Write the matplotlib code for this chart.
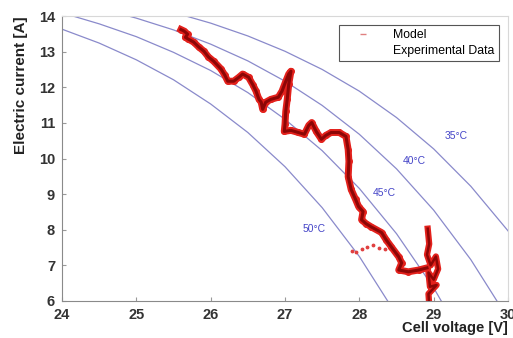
import matplotlib
matplotlib.use("Agg")
import matplotlib.pyplot as plt
from matplotlib.lines import Line2D

# ---- the data ----

# model curves, one per cell temperature (voltage [V], current [A])
curve_temps = ['35°C', '40°C', '45°C', '50°C']
v_35 = [25.0, 25.5, 26.0, 26.5, 27.0, 27.5, 28.0, 28.5, 29.0, 29.5, 30.0, 30.5]
i_35 = [14.35, 14.10, 13.80, 13.44, 13.01, 12.50, 11.89, 11.15, 10.27, 9.22, 7.97, 6.47]
v_40 = [24.5, 25.0, 25.5, 26.0, 26.5, 27.0, 27.5, 28.0, 28.5, 29.0, 29.5, 30.0]
i_40 = [14.22, 13.94, 13.61, 13.21, 12.74, 12.17, 11.49, 10.68, 9.71, 8.55, 7.16, 5.51]
v_45 = [24.0, 24.5, 25.0, 25.5, 26.0, 26.5, 27.0, 27.5, 28.0, 28.5, 29.0, 29.5]
i_45 = [14.09, 13.78, 13.42, 12.98, 12.47, 11.85, 11.10, 10.22, 9.16, 7.89, 6.37, 4.56]
v_50 = [23.5, 24.0, 24.5, 25.0, 25.5, 26.0, 26.5, 27.0, 27.5, 28.0, 28.5]
i_50 = [13.96, 13.63, 13.24, 12.77, 12.21, 11.53, 10.73, 9.77, 8.62, 7.25, 5.61]

# where the temperature labels sit
label_v = [29.31, 28.74, 28.34, 27.39]
label_i = [10.62, 9.92, 9.04, 8.03]

# measured operating points (the wiggly trace)
trace_v = [25.60, 25.64, 25.69, 25.66, 25.70, 25.77, 25.84, 25.91, 25.97, 26.04,
           26.14, 26.19, 26.23, 26.31, 26.38, 26.43, 26.51, 26.57, 26.61, 26.65,
           26.68, 26.70, 26.74, 26.81, 26.91, 26.96, 27.00, 27.05, 27.08, 27.05,
           27.03, 27.01, 27.00, 26.99, 27.08, 27.18, 27.26, 27.32, 27.36, 27.42,
           27.49, 27.55, 27.62, 27.73, 27.82, 27.85, 27.86, 27.85, 27.89, 27.95,
           27.99, 28.05, 28.03, 28.09, 28.16, 28.30, 28.36, 28.43, 28.53, 28.57,
           28.53, 28.66, 28.80, 28.91]
trace_i = [13.62, 13.58, 13.49, 13.40, 13.35, 13.27, 13.13, 13.01, 12.85, 12.73,
           12.51, 12.34, 12.17, 12.17, 12.28, 12.37, 12.28, 12.06, 11.89, 11.66,
           11.58, 11.38, 11.58, 11.66, 11.72, 11.89, 12.11, 12.37, 12.45, 12.08,
           11.66, 11.32, 10.96, 10.76, 10.79, 10.73, 10.68, 10.93, 11.01, 10.76,
           10.54, 10.65, 10.73, 10.73, 10.62, 10.25, 9.92, 9.49, 9.13, 8.85,
           8.65, 8.51, 8.28, 8.17, 8.08, 7.92, 7.72, 7.52, 7.24, 7.07,
           6.87, 6.82, 6.87, 6.93]

# the vertical bit near 29 V at the end
stripe_v = [28.92, 28.94, 28.91, 28.96, 29.03, 29.06, 29.00, 28.93, 28.95, 29.04, 28.93, 28.94]
stripe_i = [8.03, 7.60, 7.30, 7.00, 7.25, 6.90, 6.60, 6.80, 6.40, 6.45, 6.20, 5.90]

# few loose points left of the stripe
branch_v = [27.90, 27.96, 28.03, 28.10, 28.18, 28.26, 28.34]
branch_i = [7.40, 7.38, 7.47, 7.52, 7.56, 7.50, 7.45]

x_ticks = [24, 25, 26, 27, 28, 29, 30]
y_ticks = [6, 7, 8, 9, 10, 11, 12, 13, 14]

# ---- drawing ----
plt.rcParams['font.family'] = ['Liberation Sans', 'DejaVu Sans']

fig = plt.figure(figsize=(5.13, 3.38), dpi=100)
ax = fig.add_axes([62 / 513, 37 / 338, 446 / 513, 285 / 338])

curve_col = '#8a8acb'
for vv, ii in [(v_35, i_35), (v_40, i_40), (v_45, i_45), (v_50, i_50)]:
    ax.plot(vv, ii, color=curve_col, lw=0.9, zorder=1)

for txt, lv, li in zip(curve_temps, label_v, label_i):
    ax.text(lv, li, txt, color='#4646c8', fontsize=7.5, ha='center', va='center')

# model = red halo, experimental = dark core
ax.plot(trace_v, trace_i, color='#e3211c', lw=5.0, solid_joinstyle='round', zorder=2)
ax.plot(trace_v, trace_i, 'o', color='#e3211c', ms=4, zorder=2)
ax.plot(stripe_v, stripe_i, color='#e3211c', lw=4.5, solid_joinstyle='round', zorder=2)
ax.plot(branch_v, branch_i, '.', color='#e04040', ms=3.5, zorder=2)
ax.plot(trace_v, trace_i, color='#8c0606', lw=2.2, solid_joinstyle='round', zorder=3)
ax.plot(stripe_v, stripe_i, color='#8c0606', lw=1.8, zorder=3)

ax.set_xlim(24, 30)
ax.set_ylim(6, 14)
ax.set_xticks(x_ticks)
ax.set_yticks(y_ticks)
ax.tick_params(direction='in', length=3, color='#999999', labelsize=10.5, pad=5)
for lab in ax.get_xticklabels() + ax.get_yticklabels():
    lab.set_fontweight('bold')
    lab.set_color('#333333')

for side in ['left', 'bottom']:
    ax.spines[side].set_color('#8a8a8a')
for side in ['top', 'right']:
    ax.spines[side].set_color('#d8d8d8')

ax.set_xlabel('Cell voltage [V]', loc='right', fontweight='bold', fontsize=10.5,
              color='#222222', labelpad=-1)
ax.set_ylabel('Electric current [A]', loc='top', fontweight='bold', fontsize=11,
              color='#222222', labelpad=8)

# legend with hand made handles
handles = [Line2D([], [], ls='none', marker='_', color='#e08080', ms=5),
           Line2D([], [], ls='none', marker=',', color='white')]
leg = ax.legend(handles, ['Model', 'Experimental Data'], loc='upper right',
                bbox_to_anchor=(0.98, 0.968), borderaxespad=0, fontsize=8.8,
                fancybox=False, framealpha=1, edgecolor='#555555',
                handlelength=3.2, handletextpad=0.9, borderpad=0.35,
                labelspacing=0.3)
leg.get_frame().set_linewidth(0.8)

fig.savefig('out.png', dpi=100)
